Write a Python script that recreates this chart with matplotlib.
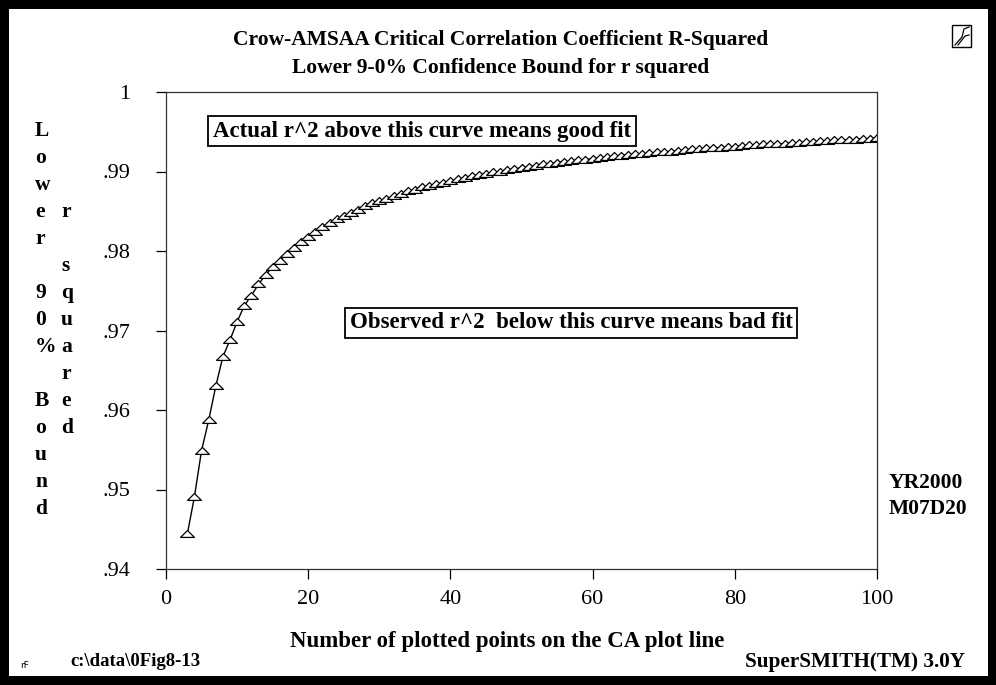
import matplotlib.pyplot as plt
from matplotlib.patches import Rectangle
from matplotlib.lines import Line2D

# number of plotted points on the CA plot line
n_points = list(range(3, 101))
# lower 90% bound for r squared
r2_lower = [
    0.9444, 0.9491, 0.9549, 0.9587, 0.9630, 0.9667, 0.9688, 0.9711, 0.9731, 0.9744,
    0.9758, 0.9770, 0.9780, 0.9788, 0.9796, 0.9804, 0.9811, 0.9818, 0.9824, 0.9830,
    0.9835, 0.9840, 0.9844, 0.9848, 0.9852, 0.9856, 0.9860, 0.9863, 0.9866, 0.9869,
    0.9872, 0.9875, 0.9877, 0.9880, 0.9882, 0.9884, 0.9886, 0.9888, 0.9890, 0.9892,
    0.9894, 0.9896, 0.9897, 0.9899, 0.9900, 0.9902, 0.9903, 0.9905, 0.9906, 0.9907,
    0.9909, 0.9910, 0.9911, 0.9912, 0.9913, 0.9914, 0.9915, 0.9916, 0.9917, 0.9918,
    0.9919, 0.9920, 0.9921, 0.9922, 0.9922, 0.9923, 0.9924, 0.9925, 0.9925, 0.9926,
    0.9927, 0.9928, 0.9928, 0.9929, 0.9930, 0.9930, 0.9931, 0.9931, 0.9932, 0.9933,
    0.9933, 0.9934, 0.9934, 0.9935, 0.9935, 0.9936, 0.9936, 0.9937, 0.9937, 0.9938,
    0.9938, 0.9939, 0.9939, 0.9940, 0.9940, 0.9941, 0.9941, 0.9942,
]

x_ticks = [0, 20, 40, 60, 80, 100]
y_ticks = [0.94, 0.95, 0.96, 0.97, 0.98, 0.99, 1.0]
y_tick_labels = ['.94', '.95', '.96', '.97', '.98', '.99', '1']

ylabel_col1 = "Lower 90% Bound"
ylabel_col2 = "r squared"

W, H = 996, 685
serif = 'Liberation Serif'


def fx(x):
    return x / W


def fy(y):
    return 1 - y / H


fig = plt.figure(figsize=(W / 100, H / 100), dpi=100)
fig.patch.set_facecolor('white')

ax = fig.add_axes([fx(166), fy(569), (877 - 166) / W, (569 - 92) / H])

# flat triangle marker like the original
tri = [(-1, -0.42), (1, -0.42), (0, 0.58), (-1, -0.42)]
ax.plot(n_points, r2_lower, color='black', lw=1.0,
        marker=tri, markersize=10, markerfacecolor='white',
        markeredgecolor='black', markeredgewidth=0.9)

ax.set_xlim(0, 100)
ax.set_ylim(0.94, 1.0)
ax.set_xticks(x_ticks)
ax.set_xticklabels([str(v) for v in x_ticks])
ax.set_yticks(y_ticks)
ax.set_yticklabels(y_tick_labels)
ax.tick_params(axis='both', direction='out', length=7, width=0.9,
               labelsize=16, colors='black')
ax.tick_params(axis='y', pad=19)
ax.tick_params(axis='x', pad=8)
for lab in ax.get_xticklabels() + ax.get_yticklabels():
    lab.set_fontfamily(serif)
for sp in ax.spines.values():
    sp.set_linewidth(0.9)
    sp.set_color('#333333')

# boxed notes
box = dict(boxstyle='square,pad=0.2', fc='white', ec='black', lw=1.3)
fig.text(fx(422), fy(131), "Actual r^2 above this curve means good fit",
         ha='center', va='center', fontsize=16.5, fontweight='bold',
         family=serif, bbox=box)
fig.text(fx(571), fy(323), "Observed r^2  below this curve means bad fit",
         ha='center', va='center', fontsize=16.5, fontweight='bold',
         family=serif, bbox=box)

# titles
fig.text(fx(501), fy(40), "Crow-AMSAA Critical Correlation Coefficient R-Squared",
         ha='center', va='center', fontsize=15.5, fontweight='bold', family=serif)
fig.text(fx(501), fy(68), "Lower 9-0% Confidence Bound for r squared",
         ha='center', va='center', fontsize=15.5, fontweight='bold', family=serif)

# stacked y label
for i, ch in enumerate(ylabel_col1):
    fig.text(fx(35), fy(131 + 27 * i), ch, ha='left', va='center',
             fontsize=15.5, fontweight='bold', family=serif)
for i, ch in enumerate(ylabel_col2):
    fig.text(fx(61), fy(131 + 27 * (i + 3)), ch, ha='left', va='center',
             fontsize=15.5, fontweight='bold', family=serif)

fig.text(fx(507), fy(641), "Number of plotted points on the CA plot line",
         ha='center', va='center', fontsize=16.5, fontweight='bold', family=serif)
fig.text(fx(70), fy(662), "c:\\data\\0Fig8-13", ha='left', va='center',
         fontsize=13.5, fontweight='bold', family=serif)
fig.text(fx(965), fy(662), "SuperSMITH(TM) 3.0Y", ha='right', va='center',
         fontsize=15.3, fontweight='bold', family=serif)
fig.text(fx(20), fy(666), "rF", ha='left', va='center', fontsize=6.5, family='DejaVu Sans')
fig.text(fx(889), fy(483), "YR2000", ha='left', va='center',
         fontsize=15.5, fontweight='bold', family=serif)
fig.text(fx(889), fy(509), "M07D20", ha='left', va='center',
         fontsize=15.5, fontweight='bold', family=serif)

# little pen icon top right
fig.add_artist(Rectangle((fx(952), fy(47)), 19 / W, 22 / H, transform=fig.transFigure,
                         fill=False, ec='black', lw=1.0))
fig.add_artist(Line2D([fx(955), fx(962), fx(964), fx(969)],
                      [fy(45), fy(37), fy(29), fy(27)],
                      transform=fig.transFigure, color='black', lw=0.9))
fig.add_artist(Line2D([fx(958), fx(965), fx(969)],
                      [fy(45), fy(36), fy(35)],
                      transform=fig.transFigure, color='black', lw=0.9))

# thick black frame around the whole picture
for x0, y0, w, h in [(0, 0, 9, H), (988, 0, 8, H), (0, 0, W, 9), (0, 676, W, 9)]:
    fig.add_artist(Rectangle((fx(x0), fy(y0 + h)), w / W, h / H,
                             transform=fig.transFigure, color='black', lw=0))

fig.savefig('out.png', dpi=100, facecolor='white')
